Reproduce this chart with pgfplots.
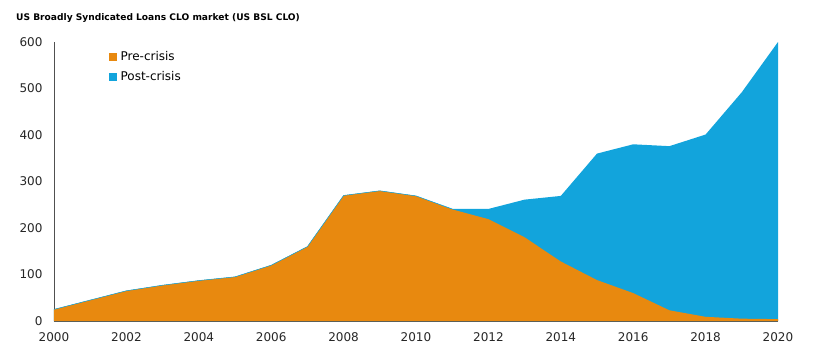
\documentclass[border=0pt]{standalone}
\usepackage{fontspec}
\setmainfont{DejaVu Sans}
\usepackage{pgfplots}
\pgfplotsset{compat=1.18}
\definecolor{preC}{RGB}{232,137,15}
\definecolor{postC}{RGB}{18,164,220}
\definecolor{axC}{RGB}{80,80,80}
\begin{document}
\begin{tikzpicture}
\begin{axis}[
  at={(0,0)}, anchor=south west,
  scale only axis, width=724pt, height=279pt,
  xmin=2000, xmax=2020, ymin=0, ymax=600,
  axis x line=bottom, axis y line=left,
  axis line style={draw=axC, line width=0.8pt, -},
  xtick={2000,2002,...,2020}, ytick={0,100,...,600},
  major tick length=0pt,
  xticklabel style={font=\fontsize{12}{14}\selectfont, color=black!85, yshift=-8pt},
  yticklabel style={font=\fontsize{12}{14}\selectfont, color=black!85, xshift=-8pt},
  /pgf/number format/1000 sep={},
  /pgf/number format/assume math mode=true,
  legend style={draw=none, fill=none, at={(0.076,0.975)}, anchor=north west,
    font=\fontsize{12}{14}\selectfont, row sep=5.5pt, inner sep=0pt},
  legend cell align=left,
  legend image code/.code={\fill[#1] (0pt,-3.5pt) rectangle (7pt,3.5pt);},
  clip=false,
]
% total (pre + post)
\addplot[fill=postC, draw=none, forget plot] coordinates {
(2000,25) (2001,45) (2002,65) (2003,77) (2004,87) (2005,95) (2006,120) (2007,160)
(2008,270) (2009,280) (2010,269) (2011,241) (2012,241) (2013,261) (2014,269)
(2015,360) (2016,380) (2017,376) (2018,401) (2019,492) (2020,600)
} \closedcycle;
\addplot[fill=preC, draw=none, forget plot] coordinates {
(2000,25) (2001,45) (2002,65) (2003,77) (2004,87) (2005,95) (2006,120) (2007,160)
(2008,270) (2009,280) (2010,269) (2011,240) (2012,219) (2013,180) (2014,128)
(2015,88) (2016,60) (2017,23) (2018,9) (2019,5) (2020,4)
} \closedcycle;
\addplot[draw=postC, line width=0.5pt, forget plot] coordinates {
(2000,25) (2001,45) (2002,65) (2003,77) (2004,87) (2005,95) (2006,120) (2007,160)
(2008,270) (2009,280) (2010,269) (2011,241)
};
\addlegendimage{preC}
\addlegendentry{\hspace{2pt}Pre-crisis}
\addlegendimage{postC}
\addlegendentry{\hspace{2pt}Post-crisis}
\end{axis}
\node[anchor=base west, font=\bfseries\fontsize{9.1}{11}\selectfont, inner sep=0pt] at (-38pt,300pt) {US Broadly Syndicated Loans CLO market (US BSL CLO)};
\path[use as bounding box] (-54pt,-33pt) rectangle (766pt,321pt);
\end{tikzpicture}
\end{document}
